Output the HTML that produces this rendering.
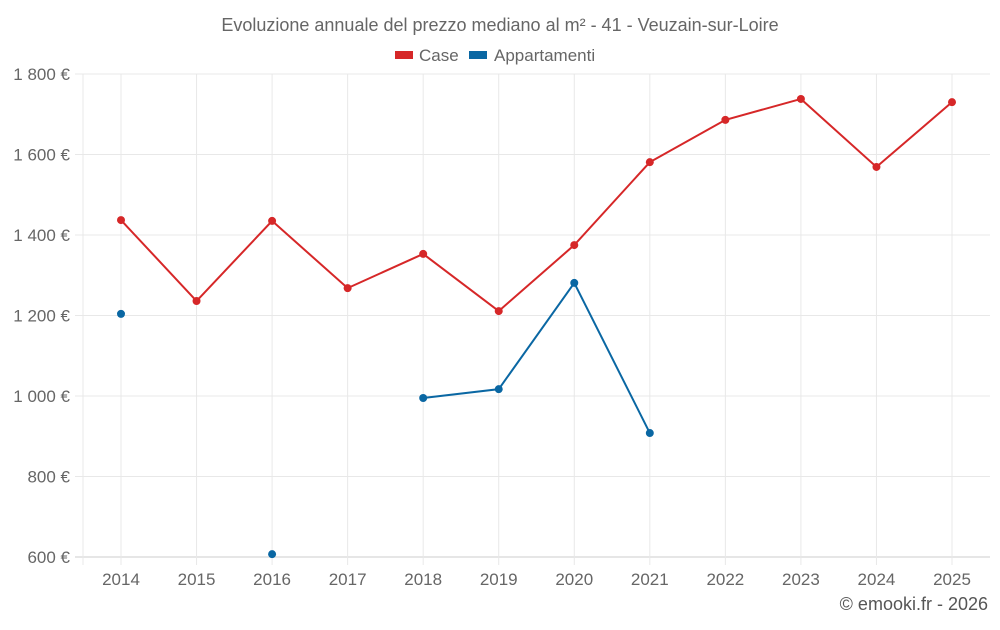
<!DOCTYPE html>
<html><head><meta charset="utf-8"><style>
body{margin:0;background:#fff;font-family:"Liberation Sans",sans-serif}
svg text{font-family:"Liberation Sans",sans-serif}
</style></head><body>
<svg id="c" width="1000" height="625">
<text x="500" y="31" text-anchor="middle" font-size="18" fill="#666">Evoluzione annuale del prezzo mediano al m² - 41 - Veuzain-sur-Loire</text>
<g><rect x="395" y="51" width="18" height="8" fill="#d62728"/><text x="419" y="61" font-size="17" fill="#666">Case</text></g>
<g><rect x="469" y="51" width="18" height="8" fill="#0a67a3"/><text x="494" y="61" font-size="17" fill="#666">Appartamenti</text></g>
<g id="grid"></g><g id="marks"></g>
<text x="988" y="610" text-anchor="end" font-size="18" fill="#555">© emooki.fr - 2026</text>
</svg>
<script>
const years=[2014,2015,2016,2017,2018,2019,2020,2021,2022,2023,2024,2025];
const caseVals=[1437,1236,1435,1268,1353,1211,1375,1581,1686,1738,1569,1730];
const appVals=[1204,null,607,null,995,1017,1281,908,null,null,null,null];
const yTicks=[600,800,1000,1200,1400,1600,1800];
const L=83,R=990,T=74,B=557,ymin=600,ymax=1800;
const xs=i=>121+i*(952-121)/(years.length-1);
const ys=v=>B-(v-ymin)/(ymax-ymin)*(B-T);
const NS="http://www.w3.org/2000/svg";
const g=document.getElementById('grid'),m=document.getElementById('marks');
function mk(p,t,a){const e=document.createElementNS(NS,t);for(const k in a)e.setAttribute(k,a[k]);p.appendChild(e);return e;}
yTicks.forEach(v=>{const y=ys(v);
const l=mk(g,'line',{x1:75,x2:R,y1:y,y2:y,stroke:v===ymin?'#ccc':'#e8e8e8'});


const t=mk(g,'text',{x:70,y:y+6,'text-anchor':'end','font-size':17,fill:'#666'});
t.textContent=v.toLocaleString('fr-FR').replace(/\s/g,' ')+' €';

});
const la=mk(g,'line',{x1:L,x2:L,y1:T,y2:B+8,stroke:'#e8e8e8'});


years.forEach((yr,i)=>{const x=xs(i);
const l=mk(g,'line',{x1:x,x2:x,y1:T,y2:B+8,stroke:'#e8e8e8'});


const t=mk(g,'text',{x:x,y:585,'text-anchor':'middle','font-size':17,fill:'#666'});
t.textContent=yr;

});
function series(vals,col,name){
let d='',pen=false;
vals.forEach((v,i)=>{if(v==null){pen=false;return;}d+=(pen?'L':'M')+xs(i)+' '+ys(v)+' ';pen=true;});
const p=mk(m,'path',{d:d,fill:'none',stroke:col,'stroke-width':2});


vals.forEach((v,i)=>{if(v==null)return;
const c=mk(m,'circle',{cx:xs(i),cy:ys(v),r:4,fill:col});

});}
series(caseVals,'#d62728','case');
series(appVals,'#0a67a3','appartamenti');
</script>
</body></html>
